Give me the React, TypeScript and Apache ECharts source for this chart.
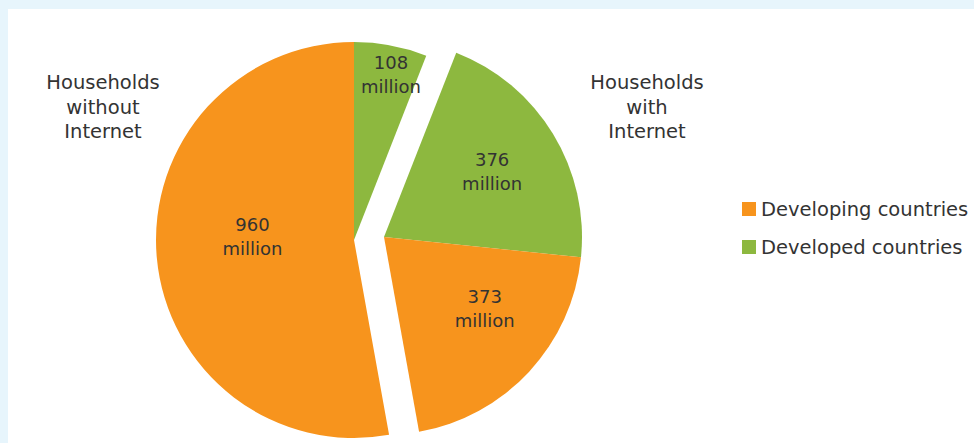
import React, { useEffect, useRef } from "react";
import * as echarts from "echarts";

// Data
const legendNames = ["Developing countries", "Developed countries"];
const groupTitles = ["Households\nwithout\nInternet", "Households\nwith\nInternet"];
// slices, clockwise from 12 o'clock
const sliceValues = [108, 376, 373, 960];
const sliceCountry = [1, 1, 0, 0]; // index into legendNames
const sliceGroup = [0, 1, 1, 0]; // index into groupTitles
const unitLabel = "million";

// Styles
const colors = ["#F7941D", "#8DB83F"];
const groupCenters = [
  [354, 240],
  [384, 237],
];
const groupTitlePos = [
  [103, 107],
  [647, 107],
];
const labelOffsets = [
  [18, -65],
  [21, -12],
  [26, 2],
  [0, -13],
];
const FONT = "DejaVu Sans";

export default function App() {
  const ref = useRef<HTMLDivElement>(null);
  useEffect(() => {
    document.body.style.margin = "0";
    if (!ref.current) return;
    const chart = echarts.init(ref.current, null, { renderer: "svg" });
    const series = groupTitles.map((_, g) => ({
      type: "pie",
      radius: 198,
      center: groupCenters[g],
      startAngle: 90,
      clockwise: true,
      avoidLabelOverlap: false,
      emphasis: { scale: false, disabled: true },
      labelLayout: (p: any) => ({
        dx: labelOffsets[p.dataIndex][0],
        dy: labelOffsets[p.dataIndex][1],
      }),
      label: {
        position: "inside",
        formatter: (p: any) => `${p.value}\n${unitLabel}`,
        fontFamily: FONT,
        fontSize: 18,
        lineHeight: 24,
        color: "#333",
      },
      labelLine: { show: false },
      data: sliceValues.map((v, i) => {
        const visible = sliceGroup[i] === g;
        return {
          value: v,
          name: visible ? legendNames[sliceCountry[i]] : "",
          itemStyle: { color: visible ? colors[sliceCountry[i]] : "rgba(0,0,0,0)" },
          label: { show: visible },
        };
      }),
    }));
    chart.setOption({
      animation: false,
      backgroundColor: "#ffffff",
      legend: {
        orient: "vertical",
        left: 737,
        top: 194,
        itemWidth: 14,
        itemHeight: 14,
        itemGap: 18,
        icon: "rect",
        selectedMode: false,
        textStyle: { fontFamily: FONT, fontSize: 19.5, color: "#333" },
        data: legendNames.map((n, i) => ({ name: n, itemStyle: { color: colors[i] } })),
      },
      graphic: [
        { type: "rect", left: 0, top: 0, z: -1, shape: { width: 974, height: 9 }, style: { fill: "#E7F5FC" } },
        { type: "rect", left: 0, top: 0, z: -1, shape: { width: 8, height: 443 }, style: { fill: "#E7F5FC" } },
        ...groupTitles.map((t, g) => ({
          type: "text",
          x: groupTitlePos[g][0],
          y: groupTitlePos[g][1],
          style: {
            text: t,
            fontFamily: FONT,
            fontSize: 19.5,
            lineHeight: 24.5,
            fill: "#333",
            align: "center",
            verticalAlign: "middle",
          },
        })),
      ],
      series,
    });
    return () => chart.dispose();
  }, []);
  return <div ref={ref} style={{ width: 974, height: 443 }} />;
}
